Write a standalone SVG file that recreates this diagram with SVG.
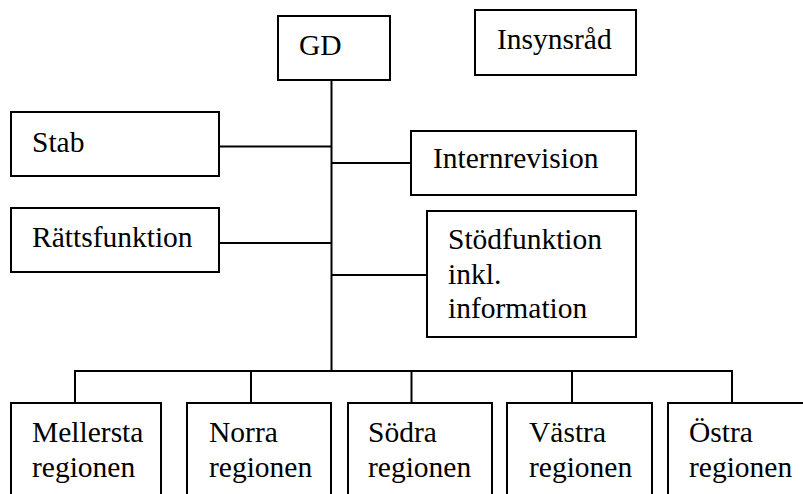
<svg xmlns="http://www.w3.org/2000/svg" width="803" height="494" viewBox="0 0 803 494" font-family="Liberation Serif, DejaVu Serif, serif" font-size="29.5">
<style>
.box{fill:#fff;stroke:#000;stroke-width:2}
.ln{stroke:#000;stroke-width:2;fill:none}
</style>
<rect width="803" height="494" fill="#fff"/>
<g id="connectors">
<line class="ln" x1="331.5" y1="80" x2="331.5" y2="371"/>
<line class="ln" x1="219" y1="146.5" x2="331.5" y2="146.5"/>
<line class="ln" x1="331.5" y1="163" x2="411" y2="163"/>
<line class="ln" x1="219" y1="243" x2="331.5" y2="243"/>
<line class="ln" x1="331.5" y1="275" x2="427" y2="275"/>
<polyline class="ln" points="75,403 75,371 732,371 732,403"/>
<line class="ln" x1="251" y1="371" x2="251" y2="403"/>
<line class="ln" x1="411.5" y1="371" x2="411.5" y2="403"/>
<line class="ln" x1="572" y1="371" x2="572" y2="403"/>
</g>
<g id="gd"><rect class="box" x="278" y="16" width="112" height="64"/><text x="299" y="55">GD</text></g>
<g id="insynsrad"><rect class="box" x="475" y="10" width="161" height="65"/><text x="497" y="49">Insynsråd</text></g>
<g id="stab"><rect class="box" x="11" y="112" width="208" height="64"/><text x="32" y="152">Stab</text></g>
<g id="internrevision"><rect class="box" x="411" y="131" width="225" height="64"/><text x="433" y="168">Internrevision</text></g>
<g id="rattsfunktion"><rect class="box" x="11" y="208" width="208" height="64"/><text x="32" y="247">Rättsfunktion</text></g>
<g id="stodfunktion"><rect class="box" x="427" y="211" width="209" height="126"/><text x="448" y="249">Stödfunktion</text><text x="448" y="283.5">inkl.</text><text x="448" y="318">information</text></g>
<g id="mellersta"><rect class="box" x="11" y="403" width="150" height="100"/><text x="32" y="442">Mellersta</text><text x="32" y="476.5">regionen</text></g>
<g id="norra"><rect class="box" x="187" y="403" width="144" height="100"/><text x="209" y="442">Norra</text><text x="209" y="476.5">regionen</text></g>
<g id="sodra"><rect class="box" x="348" y="403" width="144" height="100"/><text x="368" y="442">Södra</text><text x="368" y="476.5">regionen</text></g>
<g id="vastra"><rect class="box" x="507" y="403" width="145" height="100"/><text x="529" y="442">Västra</text><text x="529" y="476.5">regionen</text></g>
<g id="ostra"><rect class="box" x="668" y="403" width="150" height="100"/><text x="689" y="442">Östra</text><text x="689" y="476.5">regionen</text></g>
</svg>
